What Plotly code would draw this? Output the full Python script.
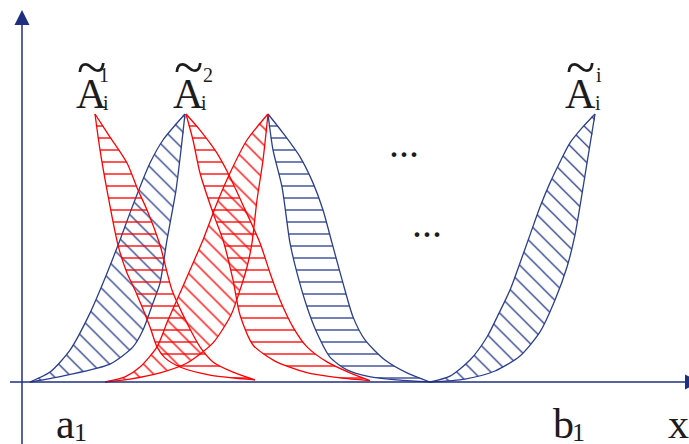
import plotly.graph_objects as go

# ---- data: half membership functions (lower / upper bound), x position and membership grade ----
# A~_i^1 right half (red, horizontal hatch)
r1_low_x = [73, 78, 85, 96, 105, 113, 128, 135, 143, 158, 188, 233]
r1_low_y = [1.0, 0.866, 0.716, 0.511, 0.407, 0.343, 0.205, 0.131, 0.090, 0.056, 0.026, 0.008]
r1_up_x = [73, 88, 105, 116, 125, 138, 150, 165, 178, 191, 211, 233]
r1_up_y = [1.0, 0.914, 0.817, 0.716, 0.642, 0.511, 0.343, 0.220, 0.131, 0.075, 0.037, 0.008]

# A~_i^2 left half (blue, diagonal hatch)
b2_low_x = [163, 159, 154, 145, 138, 131, 121, 111, 88, 45, 8]
b2_low_y = [1.0, 0.866, 0.716, 0.530, 0.369, 0.295, 0.194, 0.131, 0.067, 0.026, 0.0]
b2_up_x = [163, 141, 128, 118, 108, 98, 81, 68, 48, 28, 8]
b2_up_y = [1.0, 0.903, 0.817, 0.728, 0.631, 0.530, 0.369, 0.257, 0.119, 0.037, 0.0]

# A~_i^2 right half (red, horizontal hatch)
r2_low_x = [164, 171, 178, 191, 201, 211, 218, 231, 253, 283, 318, 348]
r2_low_y = [1.0, 0.903, 0.780, 0.631, 0.530, 0.381, 0.250, 0.138, 0.078, 0.037, 0.015, 0.005]
r2_up_x = [164, 178, 195, 208, 220, 238, 248, 258, 271, 285, 305, 328, 348]
r2_up_y = [1.0, 0.940, 0.854, 0.765, 0.668, 0.519, 0.407, 0.306, 0.205, 0.131, 0.075, 0.034, 0.005]

# A~_i^3 left half (red, diagonal hatch)
r3_low_x = [246, 241, 235, 230, 225, 218, 209, 191, 165, 138, 108, 83]
r3_low_y = [1.0, 0.828, 0.679, 0.519, 0.429, 0.343, 0.250, 0.146, 0.071, 0.034, 0.011, 0.0]
r3_up_x = [246, 225, 208, 195, 181, 168, 158, 146, 135, 118, 103, 83]
r3_up_y = [1.0, 0.903, 0.780, 0.668, 0.530, 0.418, 0.332, 0.231, 0.131, 0.056, 0.019, 0.0]

# A~_i^3 right half (blue, horizontal hatch)
b3_low_x = [246, 251, 260, 268, 275, 285, 295, 308, 325, 345, 378, 408]
b3_low_y = [1.0, 0.866, 0.728, 0.519, 0.407, 0.280, 0.183, 0.093, 0.045, 0.022, 0.007, 0.0]
b3_up_x = [246, 261, 278, 291, 301, 310, 321, 331, 343, 363, 385, 408]
b3_up_y = [1.0, 0.929, 0.840, 0.743, 0.642, 0.519, 0.369, 0.243, 0.157, 0.082, 0.034, 0.0]

# A~_i^i left half (blue, diagonal hatch)
bi_low_x = [573, 566, 559, 553, 545, 533, 518, 498, 473, 443, 408]
bi_low_y = [1.0, 0.840, 0.679, 0.549, 0.429, 0.306, 0.187, 0.097, 0.041, 0.011, 0.0]
bi_up_x = [573, 560, 548, 538, 528, 518, 508, 498, 488, 477, 465, 448, 428, 408]
bi_up_y = [1.0, 0.948, 0.892, 0.821, 0.743, 0.653, 0.549, 0.444, 0.343, 0.257, 0.168, 0.082, 0.022, 0.0]

# ---- layout helpers (pixel -> data for decorations) ----
W, H = 689, 444
X0_PX, Y0_PX, UNIT_PX = 22, 382, 268


def X(px):
    return px - X0_PX


def Y(py):
    return (Y0_PX - py) / UNIT_PX


RED = "#ff0000"
BLUE = "#2b3f8c"
AXIS = "#1f2f80"
TEXT = "#1c1c1c"
FONT = "Liberation Serif"

fig = go.Figure()


def add_half(lx, ly, ux, uy, color, pattern):
    poly_x = lx + ux[::-1][1:]
    poly_y = ly + uy[::-1][1:]
    fig.add_trace(go.Scatter(
        x=poly_x, y=poly_y, mode="lines", fill="toself",
        fillcolor="rgba(0,0,0,0)",
        line=dict(width=0, shape="spline", smoothing=0.7),
        fillpattern=dict(shape=pattern, fgcolor=color, bgcolor="rgba(0,0,0,0)",
                         size=12, solidity=0.11, fillmode="replace"),
        hoverinfo="skip", showlegend=False))
    for xs, ys in ((lx, ly), (ux, uy)):
        fig.add_trace(go.Scatter(
            x=xs, y=ys, mode="lines",
            line=dict(color=color, width=1.3, shape="spline", smoothing=0.7),
            hoverinfo="skip", showlegend=False))


add_half(b2_low_x, b2_low_y, b2_up_x, b2_up_y, BLUE, "\\")
add_half(b3_low_x, b3_low_y, b3_up_x, b3_up_y, BLUE, "-")
add_half(bi_low_x, bi_low_y, bi_up_x, bi_up_y, BLUE, "\\")
add_half(r1_low_x, r1_low_y, r1_up_x, r1_up_y, RED, "-")
add_half(r2_low_x, r2_low_y, r2_up_x, r2_up_y, RED, "-")
add_half(r3_low_x, r3_low_y, r3_up_x, r3_up_y, RED, "\\")

# ---- axes with arrows ----
shapes = [
    dict(type="line", x0=X(22), x1=X(22), y0=Y(444), y1=Y(24), line=dict(color=AXIS, width=1.5)),
    dict(type="path", path=f"M {X(22)} {Y(10)} L {X(14.5)} {Y(25)} L {X(29.5)} {Y(25)} Z",
         fillcolor=AXIS, line=dict(color=AXIS, width=0)),
    dict(type="line", x0=X(10), x1=X(686), y0=0, y1=0, line=dict(color=AXIS, width=1.5)),
    dict(type="path", path=f"M {X(685)} {Y(374.5)} L {X(700)} {Y(382)} L {X(685)} {Y(389.5)} Z",
         fillcolor=AXIS, line=dict(color=AXIS, width=0)),
]

annotations = []


def label(txt, cx, baseline, size):
    annotations.append(dict(
        text=txt, x=X(cx), y=Y(baseline - 0.3375 * size), xref="x", yref="y",
        showarrow=False, xanchor="center", yanchor="middle",
        font=dict(family=FONT, size=size, color=TEXT)))


# set labels
for cx, sup, sx, subx in ((91, "1", 104, 106), (188, "2", 208, 204), (580, "i", 599, 598)):
    label("A", cx, 108, 42)
    label("~", cx, 86, 54)
    label("i", subx, 110, 20)
    label(sup, sx, 82, 20)

label("...", 404, 157, 40)
label("...", 427, 237, 40)
label("a", 65, 438, 42)
label("1", 80, 441, 26)
label("b", 563, 438, 42)
label("1", 578, 441, 26)
label("x", 678, 438, 42)

fig.update_layout(
    width=W, height=H,
    margin=dict(l=0, r=0, t=0, b=0),
    paper_bgcolor="white", plot_bgcolor="white",
    xaxis=dict(range=[X(0), X(W)], visible=False, fixedrange=True),
    yaxis=dict(range=[Y(H), Y(0)], visible=False, fixedrange=True),
    shapes=shapes, annotations=annotations,
    showlegend=False,
)

fig.write_html("out.html", config={"displayModeBar": False},
               post_script="document.body.style.margin='0';document.body.style.padding='0';")
